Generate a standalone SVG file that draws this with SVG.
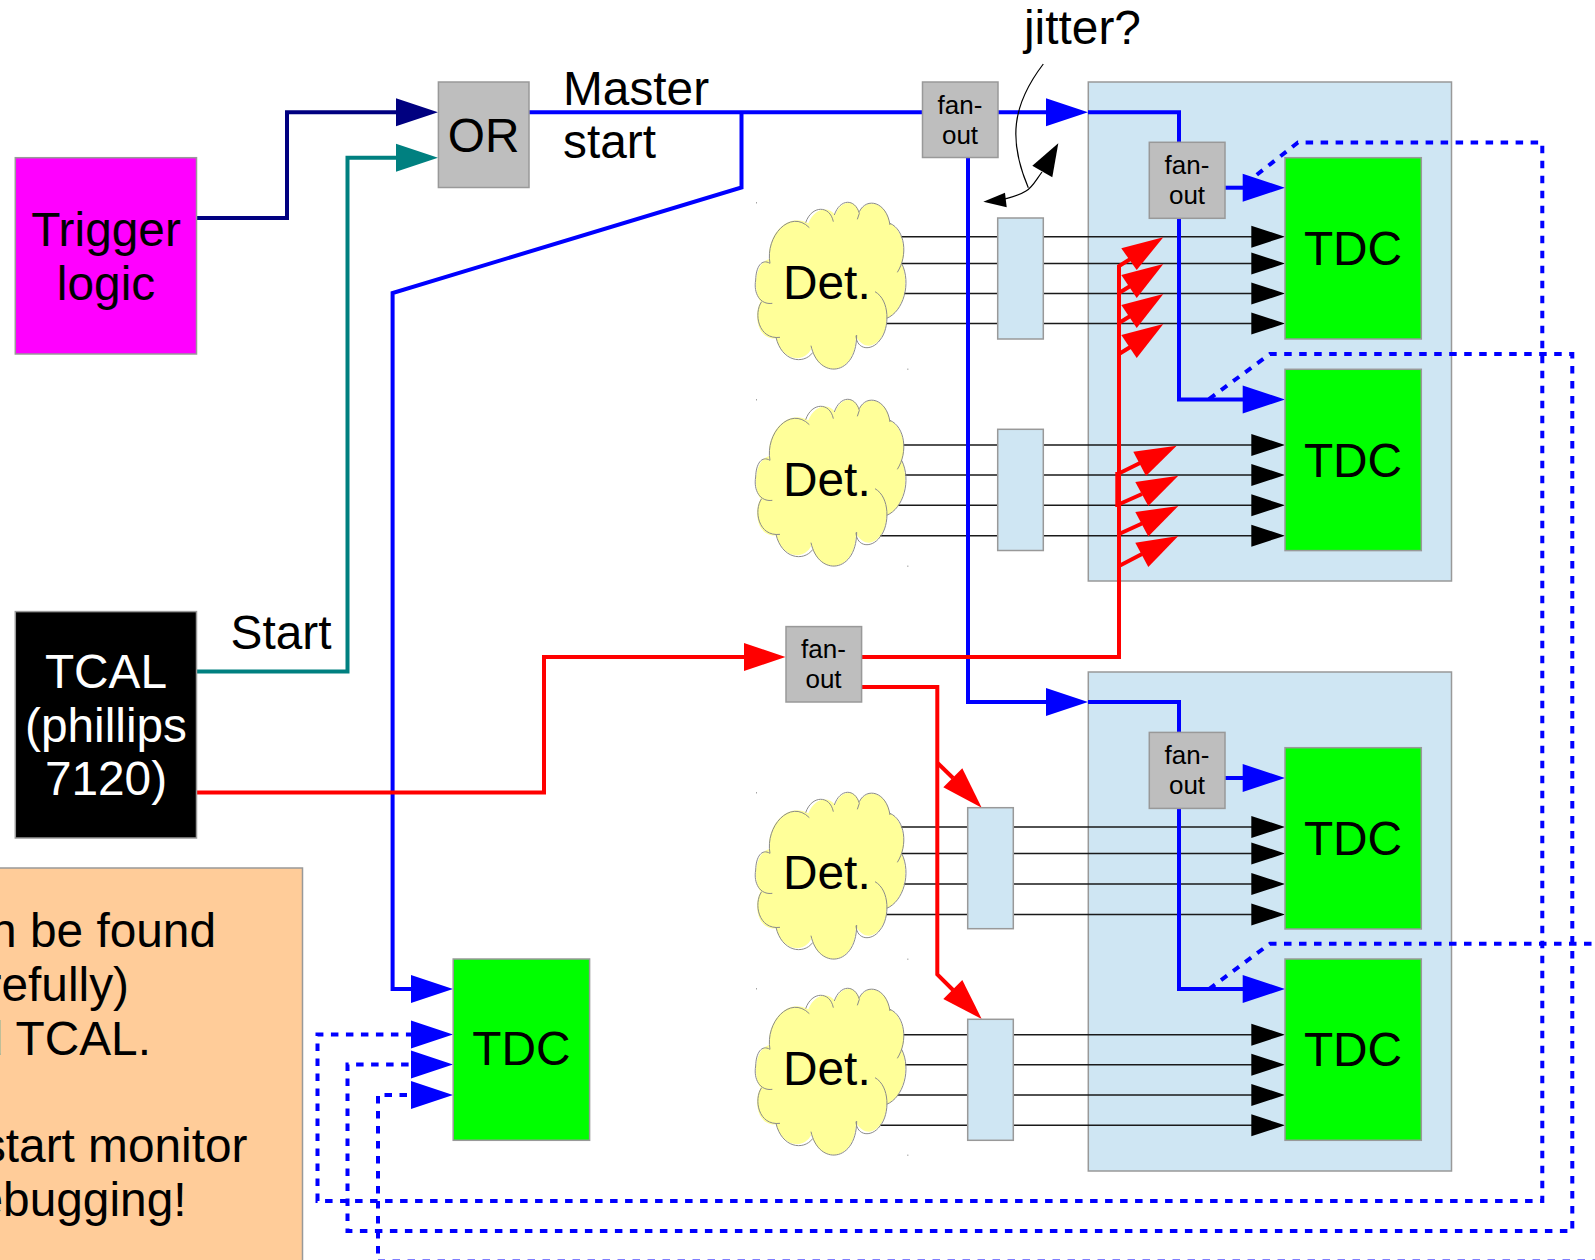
<svg xmlns="http://www.w3.org/2000/svg" xmlns:xlink="http://www.w3.org/1999/xlink" width="1595" height="1260" viewBox="0 0 1595 1260">
<style>
text{font-family:"Liberation Sans",Arial,sans-serif;font-size:47.8px;fill:#000}
.c{text-anchor:middle}
.e{text-anchor:end}
.f{font-size:26px;text-anchor:middle}
.w{fill:#fff}
.box{stroke:#999;stroke-width:1.5}
.gray{fill:#bebebe}
.lb{fill:#cfe6f3}
.tdc{fill:#0f0}
.thin{fill:none;stroke:#1a1a1a;stroke-width:1.4}
.w4{fill:none;stroke-width:4}
.dot{fill:none;stroke:#00f;stroke-width:4;stroke-dasharray:7.5 7.5}
.b{stroke:#00f}
.r{stroke:#f00}
.pb{fill:#00f}
.pr{fill:#f00}
.pk{fill:#000}
</style>
<defs>
<g id="cloud" transform="scale(.33333)">
<path fill="#ffff99" d="M62 365C40 340 40 250 88 237C80 170 140 95 205 130C225 80 270 80 285 105C305 55 345 60 358 95C385 50 440 70 450 130C490 150 500 220 485 250C510 310 490 395 440 415C440 480 385 530 348 470C345 590 235 595 215 505C190 555 125 540 108 475C50 480 40 400 62 365Z"/>
<g fill="none" stroke="#8a8a8a" stroke-width="3">
<path d="M97 370C60 375 40 340 47 300C48 260 65 235 90 250"/>
<path d="M90 250C75 170 150 85 208 143"/>
<path d="M197 128C215 75 270 75 280 125"/>
<path d="M283 105C300 55 345 55 358 100L352 118"/>
<path d="M358 95C380 50 440 65 450 135"/>
<path d="M450 130C495 150 505 225 472 277"/>
<path d="M485 250C515 310 490 395 440 415"/>
<path d="M405 335C450 360 450 445 420 480C395 515 350 510 348 467"/>
<path d="M350 465C350 590 235 600 213 497"/>
<path d="M218 518C190 555 125 545 108 472"/>
<path d="M120 472C55 480 40 400 65 365"/>
</g>
<rect x="48" y="67" width="3" height="3" fill="#777"/>
<rect x="502" y="566" width="3" height="3" fill="#777"/>
</g>
</defs>
<rect width="1595" height="1260" fill="#fff"/>

<g id="crate-top"><rect class="box lb" x="1088.3" y="82" width="363.2" height="499"/></g>
<g id="crate-bottom"><rect class="box lb" x="1088.3" y="672" width="363.2" height="499"/></g>

<g id="connectors">
<g id="signal-lines">
<path class="thin" d="M890 236.7H1252M890 263.5H1252M890 293.5H1252M880 323.5H1252"/>
<path class="thin" d="M890 445H1252M890 475H1252M890 505.3H1252M880 535.7H1252"/>
<path class="thin" d="M890 827H1252M890 853.5H1252M890 884H1252M880 914.5H1252"/>
<path class="thin" d="M890 1034.7H1252M890 1064.7H1252M890 1095H1252M880 1125.3H1252"/>
<g class="pk">
<path d="M1285 236.7L1251.3 225.7V247.7Z"/>
<path d="M1285 263.5L1251.3 252.5V274.5Z"/><path d="M1285 293.5L1251.3 282.5V304.5Z"/><path d="M1285 323.5L1251.3 312.5V334.5Z"/>
<path d="M1285 445L1251.3 434V456Z"/><path d="M1285 475L1251.3 464V486Z"/><path d="M1285 505.3L1251.3 494.3V516.3Z"/><path d="M1285 535.7L1251.3 524.7V546.7Z"/>
<path d="M1285 827L1251.3 816V838Z"/><path d="M1285 853.5L1251.3 842.5V864.5Z"/><path d="M1285 884L1251.3 873V895Z"/><path d="M1285 914.5L1251.3 903.5V925.5Z"/>
<path d="M1285 1034.7L1251.3 1023.7V1045.7Z"/><path d="M1285 1064.7L1251.3 1053.7V1075.7Z"/><path d="M1285 1095L1251.3 1084V1106Z"/><path d="M1285 1125.3L1251.3 1114.3V1136.3Z"/>
</g>
</g>
<path class="w4" stroke="#000080" d="M196.5 218H287V112.3H400"/>
<path fill="#000080" d="M438 112.3L396 98.3V126.3Z"/>
<path class="w4" stroke="#008080" d="M196.5 671.6H347.5V157.7H400"/>
<path fill="#008080" d="M438 157.7L396 143.7V171.7Z"/>

<path class="w4 b" d="M529 112.3H1050"/>
<path class="w4 b" d="M741.5 112.3V187.5L392.6 293V989H415"/>
<path class="w4 b" d="M1088 112.3H1179V399.5H1245"/>
<path class="w4 b" d="M968 157V702H1050"/>
<path class="w4 b" d="M1088 702H1179V989H1245"/>
<path class="w4 b" d="M1225 187.7H1245"/>
<path class="w4 b" d="M1225 778H1245"/>
<g class="pb">
<path d="M1088 112.3L1046 98.3V126.3Z"/>
<path d="M1088 702L1046 688V716Z"/>
<path d="M1285 187.7L1242.7 173.7V201.7Z"/>
<path d="M1285 399.5L1242.7 385.5V413.5Z"/>
<path d="M1285 778L1242.7 764V792Z"/>
<path d="M1285 989L1242.7 975V1003Z"/>
<path d="M453 989L411 975V1003Z"/>
<path d="M453 1034.5L411 1020.5V1048.5Z"/>
<path d="M453 1064.5L411 1050.5V1078.5Z"/>
<path d="M453 1095L411 1081V1109Z"/>
</g>
<path class="dot" d="M1245 184L1298 142.4H1542.3V1201H317.5V1034.5H415"/>
<path class="dot" d="M1209 399L1270 354H1572.3V1231H347.5V1064.5H415"/>
<path class="dot" d="M1209 989L1270 943.7H1600"/>
<path class="dot" d="M1600 1261.5H378V1095H415"/>

<path class="w4 r" d="M196.5 792.5H544V657H750"/>
<path class="pr" d="M785.5 657L744 643V671Z"/>
<path class="w4 r" d="M861.6 657H1119V266L1140 253"/>
<path class="w4 r" d="M1119 293L1140 280M1119 323L1140 310M1119 354L1140 341"/>
<path class="w4 r" d="M1119 474H1117.3V505L1119 505"/>
<path class="w4 r" d="M1117.3 474.3L1140 463M1117.3 505L1142 494M1119 534L1142 523.5M1119 566L1142 554"/>
<g class="pr">
<path d="M1163.3 237.3L1121.3 248.3L1136.7 270Z"/>
<path d="M1163.3 264L1121.3 275L1136.7 298Z"/>
<path d="M1163.3 294L1121.3 305L1136.7 328Z"/>
<path d="M1163.3 324L1121.3 335L1136.7 358Z"/>
<path d="M1176.7 445.7L1133.3 451.7L1146 476Z"/>
<path d="M1178.3 475.7L1135.3 482L1148.3 506Z"/>
<path d="M1178.3 506L1135.3 512L1148.3 536.5Z"/>
<path d="M1178.3 536L1135.3 542.7L1148.3 567Z"/>
<path d="M981.7 807.7L962.3 768.3L943.3 787.3Z"/>
<path d="M981.7 1019L962.3 980L943.3 999Z"/>
</g>
<path class="w4 r" d="M861.6 687H937.3V974.3L953 990"/>
<path class="w4 r" d="M937.3 762.7L953 778"/>

<path fill="none" stroke="#000" stroke-width="1.2" d="M1043.3 64C1012 105 1008 140 1028.3 187.7"/>
<path fill="none" stroke="#000" stroke-width="1.2" d="M1042 172C1036 180 1032 188 1026 191C1020 195 1012 197 1005 199"/>
<path class="pk" d="M1058.3 143.3L1032.3 165.7L1052.3 177.3Z"/>
<path class="pk" d="M983.3 201.7L1005 192.7L1006.7 207.3Z"/>
</g>

<g id="trigger"><rect class="box" fill="#f0f" x="15.3" y="157.7" width="181.2" height="196.3"/><text class="c" x="106" y="246">Trigger</text><text class="c" x="106" y="300">logic</text></g>
<g id="tcal"><rect class="box" fill="#000" x="15.3" y="611.6" width="181.2" height="226.4"/><text class="c w" x="106" y="688">TCAL</text><text class="c w" x="106" y="741.5">(phillips</text><text class="c w" x="106" y="795">7120)</text></g>
<g id="or"><rect class="box gray" x="438.4" y="82" width="90.6" height="105.5"/><text class="c" x="483.7" y="151.5">OR</text></g>
<g id="fanout-main"><rect class="box gray" x="922.5" y="82" width="75.5" height="75.5"/><text class="f" x="960" y="114">fan-</text><text class="f" x="960" y="144">out</text></g>
<g id="fanout-top"><rect class="box gray" x="1149.3" y="142.3" width="75.7" height="76"/><text class="f" x="1187" y="174">fan-</text><text class="f" x="1187" y="204">out</text></g>
<g id="fanout-red"><rect class="box gray" x="786" y="626.6" width="75.6" height="75.4"/><text class="f" x="823.5" y="658">fan-</text><text class="f" x="823.5" y="688">out</text></g>
<g id="fanout-bottom"><rect class="box gray" x="1149.3" y="732.4" width="75.7" height="76"/><text class="f" x="1187" y="764">fan-</text><text class="f" x="1187" y="794">out</text></g>

<g id="delay1"><rect class="box lb" x="997.7" y="218" width="45.6" height="121"/></g>
<g id="delay2"><rect class="box lb" x="997.7" y="429.3" width="45.6" height="121.2"/></g>
<g id="delay3"><rect class="box lb" x="967.7" y="807.7" width="45.6" height="121"/></g>
<g id="delay4"><rect class="box lb" x="967.7" y="1019.3" width="45.6" height="121"/></g>

<g id="tdc1"><rect class="box tdc" x="1285" y="157.7" width="136.3" height="181.3"/><text class="c" x="1353" y="265">TDC</text></g>
<g id="tdc2"><rect class="box tdc" x="1285" y="369.3" width="136.3" height="181.3"/><text class="c" x="1353" y="476.7">TDC</text></g>
<g id="tdc3"><rect class="box tdc" x="1285" y="747.7" width="136.3" height="181.3"/><text class="c" x="1353" y="855">TDC</text></g>
<g id="tdc4"><rect class="box tdc" x="1285" y="959" width="136.3" height="181.3"/><text class="c" x="1353" y="1065.7">TDC</text></g>
<g id="tdc5"><rect class="box tdc" x="453.2" y="959" width="136.4" height="181.3"/><text class="c" x="521.4" y="1065">TDC</text></g>

<g id="det1"><use xlink:href="#cloud" href="#cloud" transform="translate(740 180)"/><text x="783" y="299">Det.</text></g>
<g id="det2"><use xlink:href="#cloud" href="#cloud" transform="translate(740 377)"/><text x="783" y="496">Det.</text></g>
<g id="det3"><use xlink:href="#cloud" href="#cloud" transform="translate(740 770)"/><text x="783" y="889">Det.</text></g>
<g id="det4"><use xlink:href="#cloud" href="#cloud" transform="translate(740 966)"/><text x="783" y="1085">Det.</text></g>

<g id="note"><rect class="box" fill="#ffcc99" x="-5" y="868" width="307.5" height="400"/>
<text class="e" x="216" y="946.7">n be found</text>
<text class="e" x="129" y="1000.7">refully)</text>
<text class="e" x="151" y="1054.7">d TCAL.</text>
<text class="e" x="247.5" y="1161.7">start monitor</text>
<text class="e" x="186.5" y="1215.7">ebugging!</text>
</g>

<g id="labels">
<text x="563" y="105">Master</text>
<text x="563" y="158">start</text>
<text x="230.5" y="648.5">Start</text>
<text x="1024" y="43.5">jitter?</text>
</g>
</svg>
